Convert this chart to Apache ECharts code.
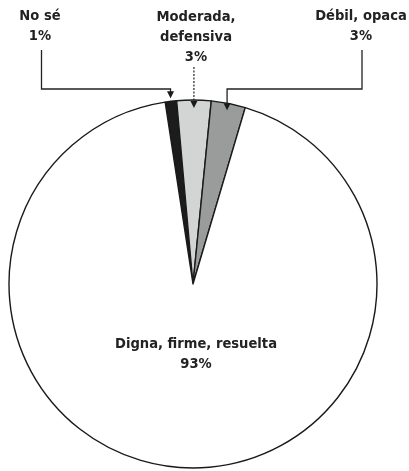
<!DOCTYPE html>
<html><head><meta charset="utf-8">
<script src="https://cdn.jsdelivr.net/npm/echarts@6/dist/echarts.min.js"></script>
<style>html,body{margin:0;padding:0;background:#fff}#c{width:409px;height:471px}</style>
</head><body><div id="c"></div>
<script>
var categories = ['No sé', 'Moderada, defensiva', 'Débil, opaca', 'Digna, firme, resuelta'];
var labelText = ['No sé', 'Moderada,\ndefensiva', 'Débil, opaca', 'Digna, firme, resuelta'];
var values = [1, 3, 3, 93];
var colors = ['#1c1c1c', '#d3d5d5', '#9a9c9c', '#ffffff'];
var labelPos = [[40, 26], [196, 37], [361, 26], [196, 354]];

var FONT = '"DejaVu Sans Condensed", "Liberation Sans Narrow", sans-serif';
var chart = echarts.init(document.getElementById('c'), null, {renderer: 'canvas'});
chart.setOption({
  backgroundColor: '#fff',
  animation: false,
  series: [{
    type: 'pie',
    center: [193, 284],
    radius: [0, 184],
    startAngle: 98.7,
    clockwise: true,
    avoidLabelOverlap: false,
    itemStyle: {borderColor: '#1a1a1a', borderWidth: 1.4},
    label: {
      show: true,
      formatter: function (p) { return labelText[p.dataIndex] + '\n' + p.value + '%'; },
      fontFamily: FONT, fontWeight: 'bold', fontSize: 14.6, lineHeight: 20,
      color: '#222', align: 'center'
    },
    labelLine: {show: false},
    labelLayout: function (p) {
      var pos = labelPos[p.dataIndex];
      return {x: pos[0], y: pos[1], align: 'center', verticalAlign: 'middle'};
    },
    emphasis: {disabled: true},
    data: categories.map(function (n, i) {
      return {name: n, value: values[i], itemStyle: {color: colors[i]}};
    })
  }]
});

// leader lines with arrows, placed from the pie layout
var data = chart.getModel().getSeriesByIndex(0).getData();
function pt(i, dr) {
  var l = data.getItemLayout(i);
  var a = (l.startAngle + l.endAngle) / 2;
  return [l.cx + (l.r + dr) * Math.cos(a), l.cy + (l.r + dr) * Math.sin(a)];
}
function arrow(x, y) {
  return {type: 'polygon', shape: {points: [[x - 3.5, y - 7], [x + 3.5, y - 7], [x, y]]},
    style: {fill: '#1a1a1a'}, z: 100};
}
var g = [];
var t0 = pt(0, 3);
g.push({type: 'polyline', shape: {points: [[41.5, 50], [41.5, 89], [t0[0], 89], [t0[0], t0[1] - 5]]},
  style: {stroke: '#222', lineWidth: 1.3, fill: null}, z: 100});
g.push(arrow(t0[0], t0[1]));
var t1 = pt(1, -8);
g.push({type: 'line', shape: {x1: t1[0], y1: 67, x2: t1[0], y2: t1[1] - 5},
  style: {stroke: '#222', lineWidth: 1.2, lineDash: [2, 1.5]}, z: 100});
g.push(arrow(t1[0], t1[1]));
var t2 = pt(2, -7);
g.push({type: 'polyline', shape: {points: [[362, 50], [362, 89], [t2[0], 89], [t2[0], t2[1] - 5]]},
  style: {stroke: '#222', lineWidth: 1.3, fill: null}, z: 100});
g.push(arrow(t2[0], t2[1]));
chart.setOption({graphic: g});
</script></body></html>
